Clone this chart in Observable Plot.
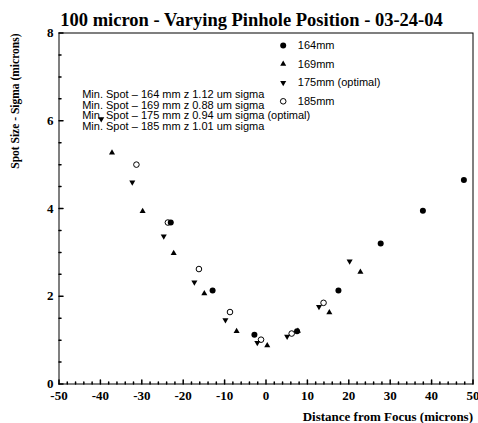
<!DOCTYPE html>
<html>
<head>
<meta charset="utf-8">
<script src="https://cdn.jsdelivr.net/npm/d3@7"></script>
<script src="https://cdn.jsdelivr.net/npm/@observablehq/plot@0.6"></script>
<style>
  html, body { margin: 0; padding: 0; background: #fff; }
  #chart svg { display: block; overflow: visible; background: #fff; }
</style>
</head>
<body>
<div id="chart"></div>
<script>
// Labels and ticks
const title = "100 micron - Varying Pinhole Position - 03-24-04";
const xLabel = "Distance from Focus (microns)";
const yLabel = "Spot Size - Sigma (microns)";
const xTicks = [-50, -40, -30, -20, -10, 0, 10, 20, 30, 40, 50];
const yTicks = [0, 2, 4, 6, 8];

// Series: pinhole position (mm) and its legend entry
const seriesMm = [164, 169, 175, 185];
const seriesNames = ["164mm", "169mm", "175mm (optimal)", "185mm"];

// Spot size (sigma, microns) vs distance from focus (microns)
const x164 = [-23.0, -12.9, -2.8, 7.5, 17.5, 27.7, 37.9, 47.8];
const y164 = [3.68, 2.13, 1.12, 1.20, 2.13, 3.20, 3.95, 4.65];

const x169 = [-37.2, -29.8, -22.3, -14.9, -7.1, 0.3, 7.7, 15.3, 22.8];
const y169 = [5.27, 3.94, 2.98, 2.06, 1.20, 0.88, 1.21, 1.63, 2.55];

const x175 = [-39.8, -32.3, -24.7, -17.3, -9.8, -2.1, 5.1, 12.8, 20.2];
const y175 = [6.04, 4.60, 3.37, 2.32, 1.46, 0.94, 1.08, 1.76, 2.80];

const x185 = [-31.3, -23.7, -16.2, -8.7, -1.2, 6.2, 13.9];
const y185 = [5.00, 3.68, 2.62, 1.64, 1.01, 1.15, 1.85];

const xs = [x164, x169, x175, x185];
const ys = [y164, y169, y175, y185];

// Marker styles, one per series
const markerStyles = [
  {symbol: "circle",   fill: "black", stroke: "none",  r: 3,    rotate: 0},
  {symbol: "triangle", fill: "black", stroke: "none",  r: 2.25, rotate: 0},
  {symbol: "triangle", fill: "black", stroke: "none",  r: 2.25, rotate: 180},
  {symbol: "circle",   fill: "none",  stroke: "black", r: 2.8,  rotate: 0}
];

const serif = "'Liberation Serif', 'Times New Roman', serif";
const sans = "'Liberation Sans', Arial, sans-serif";

const series = seriesMm.map((mm, i) => ({
  mm,
  name: seriesNames[i],
  points: xs[i].map((x, j) => ({x, y: ys[i][j]})),
  style: markerStyles[i]
}));

// Minimum-spot summary lines, computed from the series values
const summary = series.map(s =>
  `Min. Spot \u2013 ${s.mm} mm z ${d3.min(s.points, d => d.y).toFixed(2)} um sigma` +
  (s.mm === 175 ? " (optimal)" : "")
).join("\n");

// Inward tick marks (minor every 2 in x, every 0.5 in y)
const tickShape = {draw(context, l) { context.moveTo(0, 0); context.lineTo(0, -l); }};
const xMinor = d3.range(-50, 50.001, 2).filter(v => v % 10 !== 0);
const yMinor = d3.range(0, 8.001, 0.5).filter(v => v % 2 !== 0);

const marks = [
  Plot.frame({stroke: "black", strokeWidth: 1}),
  Plot.vector(xMinor, {x: d => d, frameAnchor: "bottom", length: 2, anchor: "start", shape: tickShape, stroke: "black"}),
  Plot.vector(xTicks, {x: d => d, frameAnchor: "bottom", length: 4, anchor: "start", shape: tickShape, stroke: "black"}),
  Plot.vector(yMinor, {y: d => d, frameAnchor: "left", length: 2, rotate: 90, anchor: "start", shape: tickShape, stroke: "black"}),
  Plot.vector(yTicks, {y: d => d, frameAnchor: "left", length: 4, rotate: 90, anchor: "start", shape: tickShape, stroke: "black"}),
  Plot.text(xTicks, {x: d => d, text: d => String(d), frameAnchor: "bottom", dy: 11.6, lineAnchor: "middle",
    fontFamily: serif, fontWeight: "bold", fontSize: 13, fill: "black"}),
  Plot.text(yTicks, {y: d => d, text: d => String(d), frameAnchor: "left", dx: -5.5, textAnchor: "end", lineAnchor: "middle",
    fontFamily: serif, fontWeight: "bold", fontSize: 13, fill: "black"}),
  Plot.text([title], {frameAnchor: "top", dx: -14.5, dy: -13.4, lineAnchor: "middle",
    fontFamily: serif, fontWeight: "bold", fontSize: 18.5, fill: "black"}),
  Plot.text([xLabel], {frameAnchor: "bottom-right", dy: 32.5, textAnchor: "end", lineAnchor: "middle",
    fontFamily: serif, fontWeight: "bold", fontSize: 13, fill: "black"}),
  Plot.text([yLabel], {frameAnchor: "top-left", dx: -43.5, dy: 0.5, rotate: -90, textAnchor: "end", lineAnchor: "middle",
    fontFamily: serif, fontWeight: "bold", fontSize: 11.5, fill: "black"}),
  ...series.map(s => Plot.dot(s.points, {
    x: "x", y: "y",
    symbol: s.style.symbol, fill: s.style.fill, stroke: s.style.stroke,
    strokeWidth: 1, r: s.style.r, rotate: s.style.rotate
  })),
  // legend
  ...series.flatMap((s, i) => [
    Plot.dot([s.name], {frameAnchor: "top-left", dx: 224.2, dy: 12.5 + i * 18.6,
      symbol: s.style.symbol, fill: s.style.fill, stroke: s.style.stroke,
      strokeWidth: 1, r: s.style.r, rotate: s.style.rotate}),
    Plot.text([s.name], {frameAnchor: "top-left", dx: 238.8, dy: 12.5 + i * 18.6,
      textAnchor: "start", lineAnchor: "middle", fontFamily: sans, fontSize: 11, fill: "black"})
  ]),
  Plot.text([summary], {frameAnchor: "top-left", dx: 23.2, dy: 77.7, textAnchor: "start", lineAnchor: "middle",
    lineHeight: 0.97, fontFamily: sans, fontSize: 11, fill: "black"})
];

const chart = Plot.plot({
  width: 478,
  height: 423,
  marginLeft: 58.5,
  marginRight: 5.5,
  marginTop: 32.5,
  marginBottom: 39.5,
  x: {domain: [-50, 50], axis: null},
  y: {domain: [0, 8], axis: null},
  style: {background: "white", color: "black"},
  marks
});

document.getElementById("chart").appendChild(chart);
</script>
</body>
</html>
